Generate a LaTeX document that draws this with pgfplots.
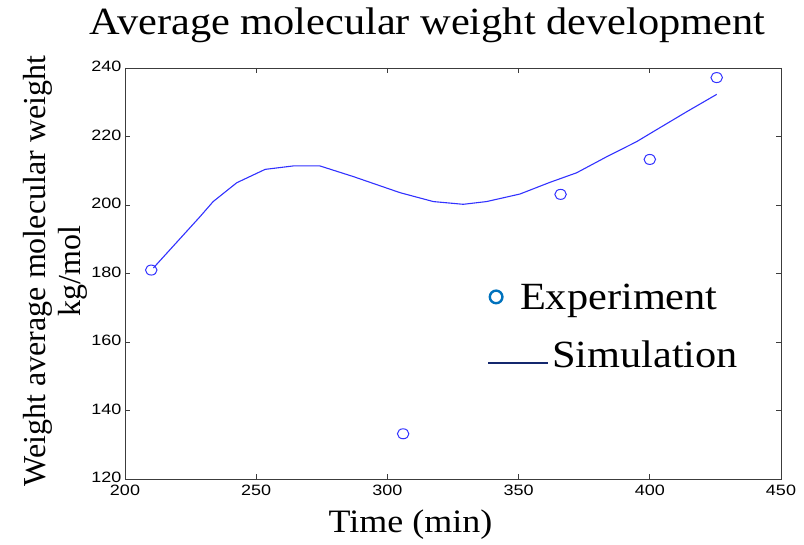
\documentclass[border=0pt]{standalone}
\usepackage{fontspec}
\setmainfont[FakeStretch=1.1]{Liberation Serif}
\newfontfamily\ylfont{Liberation Serif}
\newfontfamily\tickfont[FakeStretch=1.2]{Liberation Sans}
\usepackage{pgfplots}
\pgfplotsset{compat=1.18}
\definecolor{plotblue}{RGB}{50,50,255}
\definecolor{legblue}{RGB}{0,114,189}
\definecolor{legnavy}{RGB}{20,40,110}
\definecolor{axgray}{RGB}{60,60,60}

\pgfplotstableread{
x y
210 181
306 133.2
366 203.1
400 213.3
425.5 237.2
}\expdata

\pgfplotstableread{
x y
210.8 181.6
228.6 196.6
233.6 201.0
242.6 206.5
253.4 210.4
264.1 211.4
274.3 211.4
287.0 208.3
304.8 203.6
317.5 201.0
328.9 200.2
337.8 201.0
350.5 203.2
361.9 206.6
372.1 209.4
383.6 214.1
395.0 218.5
401.3 221.4
414.0 227.2
425.5 232.3
}\simdata

\begin{document}
\begin{tikzpicture}
\path (0pt,0pt) rectangle (804pt,545pt);
\begin{axis}[
  at={(125pt,66pt)}, anchor=south west,
  scale only axis, width=656pt, height=411pt,
  xmin=200, xmax=450, ymin=120, ymax=240,
  xtick={200,250,...,450}, ytick={120,140,...,240},
  tick align=inside, major tick length=5pt,
  axis line style={axgray, line width=0.9pt},
  every tick/.style={axgray, line width=0.9pt},
  /pgf/number format/assume math mode=true,
  tick label style={font=\tickfont\fontsize{15}{15}\selectfont, text=black},
  xticklabel style={yshift=-2.5pt},
  yticklabel style={yshift=1.5pt},
  legend style={at={(rel axis cs:0.552,0.477)}, anchor=north west,
    draw=none, fill=none, inner sep=0pt, outer sep=0pt,
    font=\fontsize{38.5}{38.5}\selectfont,
    row sep=22pt, column sep=3pt,
    nodes={inner sep=0pt, text height=27pt, text depth=9pt}},
  legend cell align=left,
]
\addplot[only marks, mark=o, mark size=5pt, color=plotblue,
  mark options={line width=1pt, xscale=1.15},
  legend image code/.code={
    \path[draw=none, fill=none] (0pt,-10pt) rectangle (60pt,10pt);
    \draw[legblue, fill=none, line width=2.4pt] (8pt,4pt) circle (6.3pt);}]
  table[x=x,y=y] {\expdata};
\addlegendentry{\hspace*{-32pt}Experiment}
\addplot[no marks, color=plotblue, line width=1.1pt,
  legend image code/.code={
    \path[draw=none, fill=none] (0pt,-10pt) rectangle (60pt,10pt);
    \draw[legnavy, line width=2pt] (0pt,-4pt) -- (60pt,-4pt);}]
  table[x=x,y=y] {\simdata};
\addlegendentry{Simulation}
\end{axis}
\node[anchor=base, font=\fontsize{38.5}{38.5}\selectfont] at (427.5pt,510pt) {Average molecular weight development};
\node[anchor=base, font=\fontsize{32.7}{32.7}\selectfont] at (410.5pt,12pt) {Time (min)};
\node[rotate=90, anchor=base, font=\ylfont\fontsize{32}{32}\selectfont] at (45pt,274pt) {Weight average molecular weight};
\node[rotate=90, anchor=base, font=\ylfont\fontsize{32}{32}\selectfont] at (80pt,274pt) {kg/mol};
\end{tikzpicture}
\end{document}
